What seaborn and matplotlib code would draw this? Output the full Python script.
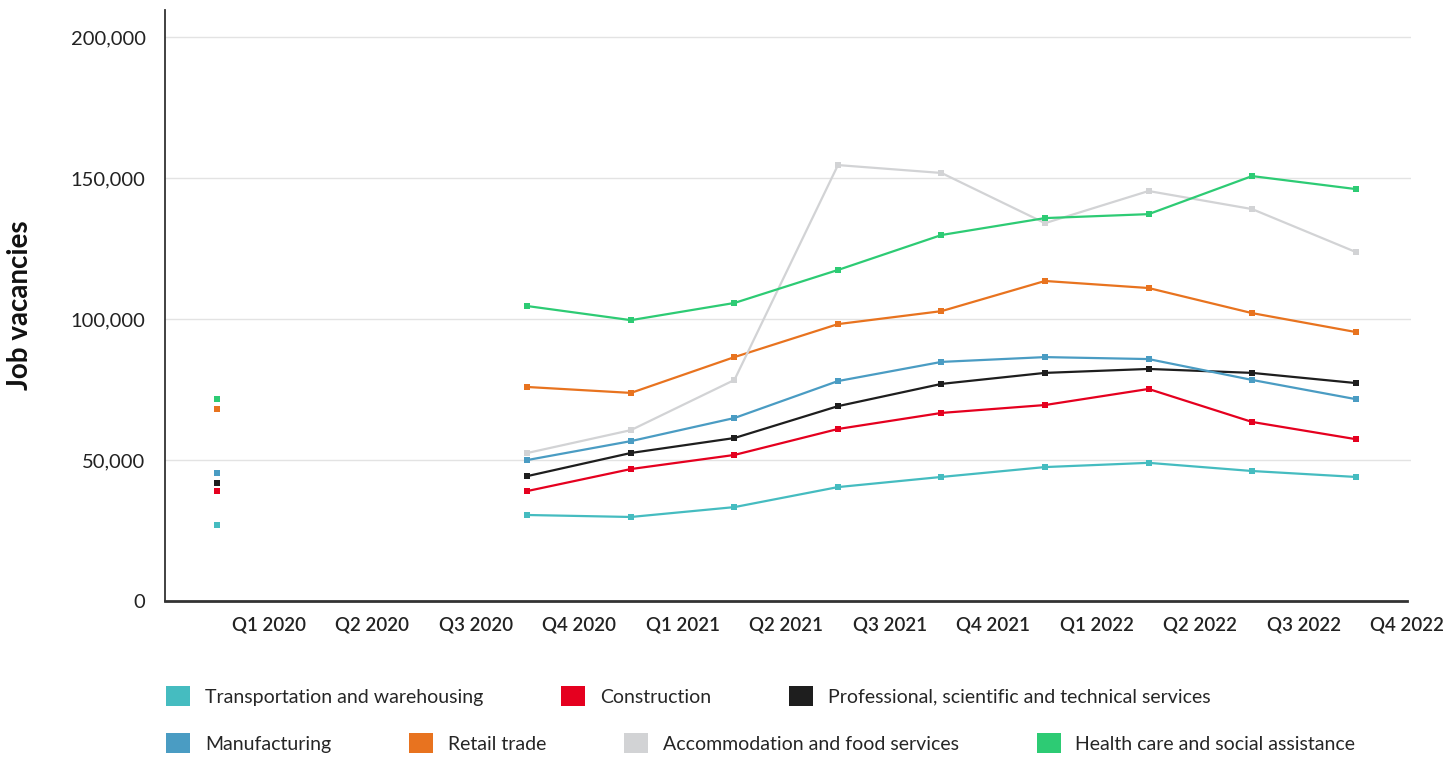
import matplotlib.pyplot as plt
import seaborn as sns
import pandas as pd
import numpy as np
from matplotlib.patches import Patch
from matplotlib.ticker import FuncFormatter

# ==========================
# DATA
# ==========================
tick_labels = ["Q1 2020", "Q2 2020", "Q3 2020", "Q4 2020", "Q1 2021", "Q2 2021",
               "Q3 2021", "Q4 2021", "Q1 2022", "Q2 2022", "Q3 2022", "Q4 2022"]
n = None
transportation = [27000, n, n, 30500, 29800, 33300, 40400, 44000, 47500, 49000, 46100, 44000]
construction   = [39000, n, n, 39000, 46800, 51800, 61000, 66700, 69500, 75200, 63500, 57400]
professional   = [41800, n, n, 44300, 52500, 57800, 69100, 77000, 80900, 82300, 80900, 77300]
manufacturing  = [45400, n, n, 50000, 56700, 64900, 78000, 84800, 86500, 85800, 78400, 71600]
retail         = [68100, n, n, 75900, 73800, 86500, 98200, 102800, 113500, 111000, 102100, 95400]
accommodation  = [n, n, n, 52500, 60600, 78400, 154600, 151800, 134000, 145400, 139000, 123800]
health         = [71600, n, n, 104600, 99600, 105700, 117400, 129800, 135800, 137200, 150700, 146100]

series = {
    "Transportation and warehousing": transportation,
    "Construction": construction,
    "Professional, scientific and technical services": professional,
    "Manufacturing": manufacturing,
    "Retail trade": retail,
    "Accommodation and food services": accommodation,
    "Health care and social assistance": health,
}
colores = {
    "Transportation and warehousing": "#45BCC0",
    "Construction": "#E5001F",
    "Professional, scientific and technical services": "#1E1E1E",
    "Manufacturing": "#4A9CC3",
    "Retail trade": "#E8731F",
    "Accommodation and food services": "#D2D3D5",
    "Health care and social assistance": "#2DCB74",
}
fila1 = ["Transportation and warehousing", "Construction",
         "Professional, scientific and technical services"]
fila2 = ["Manufacturing", "Retail trade", "Accommodation and food services",
         "Health care and social assistance"]

# long form, with a run id so gaps break the lines
rows = []
for name, vals in series.items():
    run = 0
    prev_nan = True
    for i, v in enumerate(vals):
        if v is None:
            prev_nan = True
            continue
        if prev_nan:
            run += 1
        prev_nan = False
        rows.append({"industry": name, "x": i, "value": v, "run": f"{name}_{run}"})
df = pd.DataFrame(rows)

# ==========================
# PLOT
# ==========================
sns.set_style("white")
plt.rcParams["font.family"] = ["Lato", "DejaVu Sans"]

fig = plt.figure(figsize=(14.53, 7.57), dpi=100)
ax = fig.add_axes([165 / 1453, 1 - 601 / 757, (1411 - 165) / 1453, (601 - 10) / 757])

for y in [50000, 100000, 150000, 200000]:
    ax.axhline(y, color="#e3e3e3", lw=1, zorder=0)

sns.lineplot(data=df, x="x", y="value", hue="industry", units="run", estimator=None,
             palette=colores, marker="s", markersize=5, markeredgewidth=0,
             linewidth=1.6, legend=False, ax=ax, zorder=3)

ax.set_xlim(-0.5, 11.535)
ax.set_ylim(0, 209600)
ax.set_xticks(np.arange(len(tick_labels)) + 0.5)
ax.set_xticklabels(tick_labels, fontsize=13.5, fontweight="semibold", color="#222222")
ax.set_yticks([0, 50000, 100000, 150000, 200000])
ax.yaxis.set_major_formatter(FuncFormatter(lambda v, p: f"{int(v):,}"))
ax.tick_params(axis="x", direction="in", length=10, width=1, color="#d0d0d0", pad=11)
ax.tick_params(axis="y", length=0, pad=14, labelsize=14.5, labelcolor="#222222")
ax.get_yticklabels()[0].set_y(-9000)
ax.set_xlabel("")
ax.set_ylabel("Job vacancies", fontsize=20, fontweight="bold", color="#111111")
ax.yaxis.set_label_coords((33 - 165) / 1246, 0.5)

for s in ["top", "right"]:
    ax.spines[s].set_visible(False)
ax.spines["left"].set_color("#333333")
ax.spines["left"].set_linewidth(1.3)
ax.spines["bottom"].set_color("#333333")
ax.spines["bottom"].set_linewidth(2)
ax.spines["bottom"].set_bounds(-0.5, 11.5)

# legend in two rows
for fila, ypos in [(fila1, 1 - 696 / 757), (fila2, 1 - 743 / 757)]:
    handles = [Patch(facecolor=colores[k], edgecolor="none", label=k) for k in fila]
    fig.legend(handles=handles, loc="center left", bbox_to_anchor=(166 / 1453, ypos),
               ncol=len(fila), frameon=False, fontsize=14, handlelength=1.25,
               handleheight=1.25, handletextpad=0.75, columnspacing=4.0,
               borderpad=0, borderaxespad=0)

plt.savefig("out.png", dpi=100)
